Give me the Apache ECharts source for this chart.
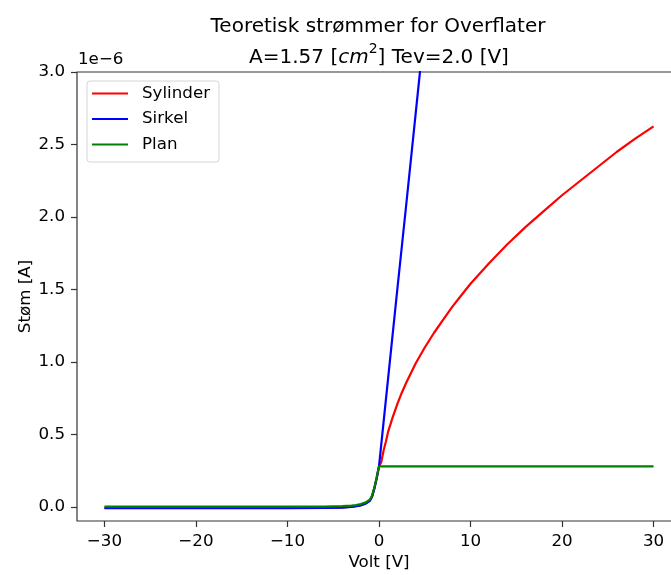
<!DOCTYPE html>
<html>
<head>
<meta charset="utf-8">
<script src="https://cdn.jsdelivr.net/npm/echarts@6/dist/echarts.min.js"></script>
<style>
  html, body { margin: 0; padding: 0; background: #fff; }
  #chart { width: 671px; height: 575px; }
</style>
</head>
<body>
<div id="chart"></div>
<script>
// Probe current (units of 1e-6 A) versus bias voltage [V]
const voltNeg = [-30, -25, -20, -15, -10, -6, -4, -3, -2.5, -2, -1.5, -1, -0.75, -0.5, -0.25, 0];
const sylinderNeg = [-0.006, -0.006, -0.006, -0.006, -0.006, -0.005, -0.002, 0.002, 0.006, 0.012, 0.023, 0.044, 0.074, 0.13, 0.2, 0.28];
const sirkelNeg   = [-0.008, -0.008, -0.008, -0.008, -0.008, -0.007, -0.004, 0.0, 0.005, 0.011, 0.022, 0.043, 0.073, 0.13, 0.2, 0.28];
const planNeg     = [0.002, 0.002, 0.002, 0.002, 0.002, 0.003, 0.006, 0.009, 0.013, 0.02, 0.03, 0.05, 0.08, 0.135, 0.205, 0.28];

const voltSylinder = [0, 0.25, 0.5, 0.75, 1, 1.5, 2, 2.5, 3, 4, 5, 6, 7, 8, 9, 10, 12, 14, 16, 18, 20, 22, 24, 26, 28, 30];
const sylinderPos  = [0.28, 0.31, 0.39, 0.45, 0.52, 0.62, 0.71, 0.79, 0.86, 0.99, 1.10, 1.20, 1.29, 1.38, 1.46, 1.54, 1.68, 1.81, 1.93, 2.04, 2.15, 2.25, 2.35, 2.45, 2.54, 2.625];

const voltSirkel = [0, 1, 2, 3, 4, 5, 10, 30];
const sirkelPos  = [0.28, 0.89, 1.50, 2.10, 2.71, 3.32, 6.36, 18.5];

const voltPlan = [0, 10, 20, 30];
const planPos  = [0.28, 0.28, 0.28, 0.28];

const xTicks = [-30, -20, -10, 0, 10, 20, 30];
const yTicks = [0, 0.5, 1.0, 1.5, 2.0, 2.5, 3.0];

const seriesNames = ['Sylinder', 'Sirkel', 'Plan'];
const seriesColors = ['#ff0000', '#0000ff', '#008000'];

function pairs(xs, ys) {
  return xs.map((x, i) => [x, ys[i]]);
}
function curve(negY, posX, posY) {
  return pairs(voltNeg, negY).concat(pairs(posX, posY).slice(1));
}
const minus = s => s.replace('-', '\u2212');

const FONT = 'DejaVu Sans';
const FS = 16.7;
const chart = echarts.init(document.getElementById('chart'), null, { renderer: 'canvas' });

chart.setOption({
  animation: false,
  backgroundColor: '#ffffff',
  textStyle: { fontFamily: FONT },
  title: [
    {
      text: 'Teoretisk strømmer for Overflater',
      left: 373, top: 12, textAlign: 'center',
      textStyle: { fontFamily: FONT, fontSize: 20, fontWeight: 'normal', color: '#000' }
    },
    {
      text: '{t|A=1.57 [}{i|cm}{s|2}{t|] Tev=2.0 [V]}',
      left: 374, top: 37, textAlign: 'center',
      textStyle: {
        fontFamily: FONT, fontSize: 20, fontWeight: 'normal', color: '#000',
        rich: {
          t: { fontFamily: FONT, fontSize: 20, color: '#000', lineHeight: 26, verticalAlign: 'bottom' },
          i: { fontFamily: FONT, fontSize: 20, fontStyle: 'italic', color: '#000', lineHeight: 26, verticalAlign: 'bottom' },
          s: { fontFamily: FONT, fontSize: 14, color: '#000', lineHeight: 14, verticalAlign: 'top' }
        }
      }
    }
  ],
  graphic: [
    {
      type: 'text', left: 78, top: 51,
      style: { text: '1e\u22126', font: FS + 'px "DejaVu Sans"', fill: '#000' }
    }
  ],
  legend: {
    orient: 'vertical',
    left: 87, top: 81,
    data: seriesNames,
    icon: 'rect',
    itemWidth: 36, itemHeight: 2,
    itemGap: 6.5,
    padding: [3, 9, 8, 5],
    borderColor: '#d6d6d6', borderWidth: 1, borderRadius: 3,
    backgroundColor: 'rgba(255,255,255,0.8)',
    textStyle: { fontFamily: FONT, fontSize: FS, color: '#000', lineHeight: 19, padding: [0, 0, 0, 9] }
  },
  grid: {
    left: 77, top: 72, right: -10, bottom: 54,
    show: true, borderColor: '#333', borderWidth: 1.2, backgroundColor: 'transparent',
    outerBoundsMode: 'none'
  },
  xAxis: {
    type: 'value', min: -33, max: 33,
    name: 'Volt [V]', nameLocation: 'middle', nameGap: 33, nameMoveOverlap: false,
    nameTextStyle: { fontFamily: FONT, fontSize: FS, color: '#000' },
    axisLine: { show: false, onZero: false },
    splitLine: { show: false },
    axisTick: { show: true, length: 6, lineStyle: { color: '#333', width: 1.2 }, customValues: xTicks },
    axisLabel: {
      customValues: xTicks, margin: 12,
      fontFamily: FONT, fontSize: FS, color: '#000',
      formatter: v => minus(String(v))
    }
  },
  yAxis: {
    type: 'value', min: -0.0966, max: 3.0,
    name: 'Støm [A]', nameLocation: 'middle', nameGap: 43, nameMoveOverlap: false,
    nameTextStyle: { fontFamily: FONT, fontSize: FS, color: '#000' },
    axisLine: { show: false, onZero: false },
    splitLine: { show: false },
    axisTick: { show: true, length: 6, lineStyle: { color: '#333', width: 1.2 }, customValues: yTicks },
    axisLabel: {
      customValues: yTicks, margin: 12,
      fontFamily: FONT, fontSize: FS, color: '#000',
      formatter: v => minus(v.toFixed(1))
    }
  },
  series: [
    { name: seriesNames[0], data: curve(sylinderNeg, voltSylinder, sylinderPos) },
    { name: seriesNames[1], data: curve(sirkelNeg, voltSirkel, sirkelPos) },
    { name: seriesNames[2], data: curve(planNeg, voltPlan, planPos) }
  ].map((s, i) => Object.assign({
    type: 'line', showSymbol: false, symbol: 'none', clip: true, z: 2 + i,
    color: seriesColors[i],
    lineStyle: { color: seriesColors[i], width: 2.2 }
  }, s))
});
</script>
</body>
</html>
